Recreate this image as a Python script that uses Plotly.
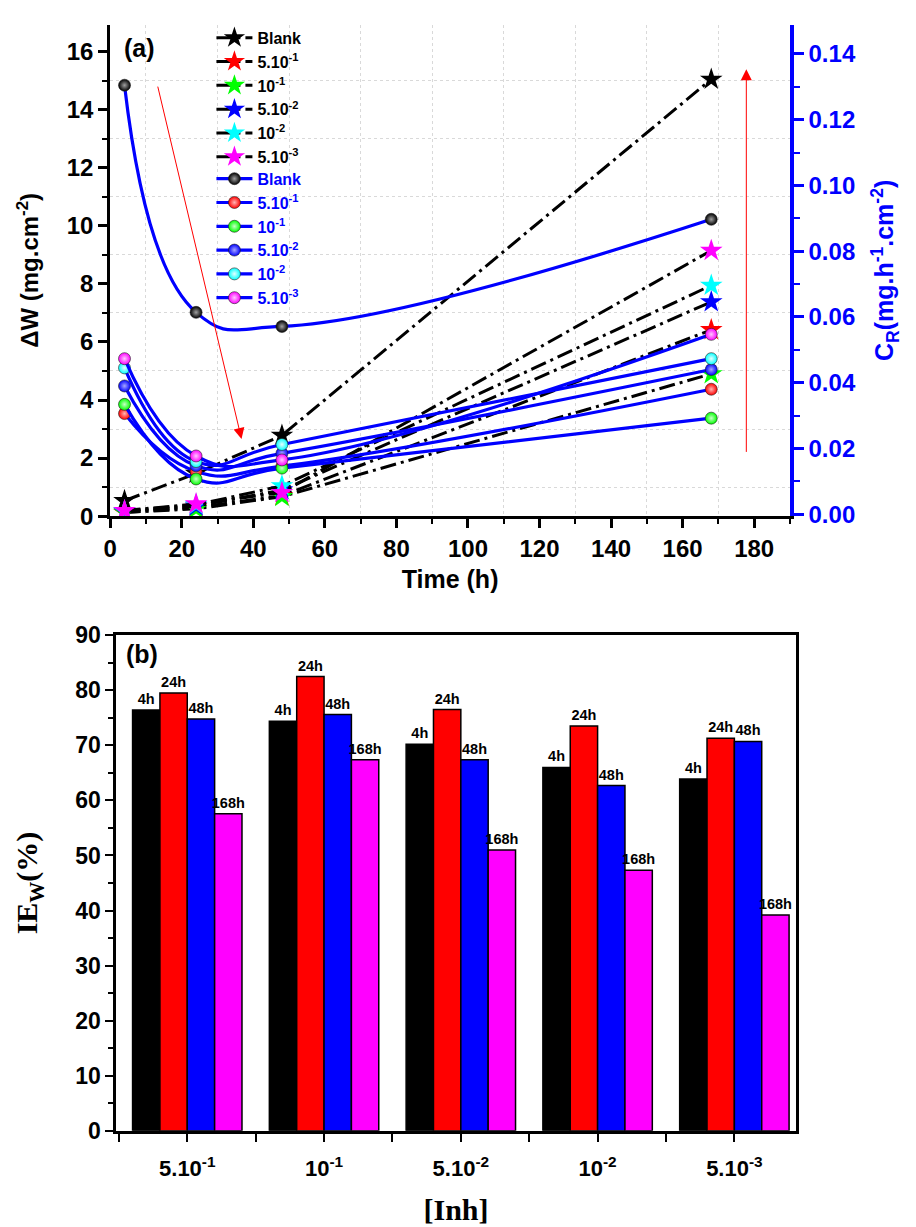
import plotly.graph_objects as go

# ---- panel (a): mass loss and corrosion rate vs immersion time ----
time_h = [4, 24, 48, 168]

series_names = ["Blank", "5.10<sup>-1</sup>", "10<sup>-1</sup>",
                "5.10<sup>-2</sup>", "10<sup>-2</sup>", "5.10<sup>-3</sup>"]
series_colors = ["#000000", "#ff0000", "#00ff00", "#0000ff", "#00ffff", "#ff00ff"]
ball_highlight = ["#a0a0a0", "#ffb4b4", "#c8ffc8", "#a8a8ff", "#e6ffff", "#ffc8ff"]

# mass loss ΔW (mg.cm-2)
dw_blank = [0.53, 1.47, 2.78, 15.05]
dw_5e1 = [0.12, 0.30, 0.70, 6.42]
dw_1e1 = [0.13, 0.25, 0.67, 4.90]
dw_5e2 = [0.16, 0.34, 0.90, 7.38]
dw_1e2 = [0.18, 0.39, 1.04, 7.95]
dw_5e3 = [0.19, 0.42, 0.81, 9.15]

# corrosion rate CR (mg.h-1.cm-2)
cr_blank = [0.1305, 0.0614, 0.0571, 0.0897]
cr_5e1 = [0.0306, 0.0130, 0.0146, 0.0380]
cr_1e1 = [0.0334, 0.0107, 0.0140, 0.0292]
cr_5e2 = [0.0390, 0.0147, 0.0185, 0.0440]
cr_1e2 = [0.0445, 0.0160, 0.0212, 0.0473]
cr_5e3 = [0.0473, 0.0177, 0.0165, 0.0547]

# ---- panel (b): inhibition efficiency ----
conc_labels = ["5.10<sup>-1</sup>", "10<sup>-1</sup>", "5.10<sup>-2</sup>",
               "10<sup>-2</sup>", "5.10<sup>-3</sup>"]
ie_4h = [76.4, 74.4, 70.2, 66.0, 63.9]
ie_24h = [79.5, 82.5, 76.5, 73.5, 71.3]
ie_48h = [74.8, 75.6, 67.4, 62.7, 70.7]
ie_168h = [57.6, 67.4, 51.0, 47.3, 39.2]
bar_labels = ["4h", "24h", "48h", "168h"]
bar_colors = ["#000000", "#ff0000", "#0000ff", "#ff00ff"]

W, H = 916, 1227
SANS = "Liberation Sans"
SERIF = "Liberation Serif"


def px_x(p):
    return p / W


def px_y(p):
    return 1 - p / H


fig = go.Figure()

dw_all = [dw_blank, dw_5e1, dw_1e1, dw_5e2, dw_1e2, dw_5e3]
cr_all = [cr_blank, cr_5e1, cr_1e1, cr_5e2, cr_1e2, cr_5e3]

# dash-dot mass-loss curves with star symbols (left axis)
for i, (name, col, vals) in enumerate(zip(series_names, series_colors, dw_all)):
    fig.add_trace(go.Scatter(
        x=time_h, y=vals, name=name, mode="lines+markers",
        line=dict(color="black", width=3, dash="16px,5px,3px,5px"),
        marker=dict(symbol="star", size=17, color=col, line=dict(width=0)),
        xaxis="x", yaxis="y", legend="legend", legendgroup=f"dw{i}",
    ))

# smoothed corrosion-rate curves with ball symbols (right axis)
for i, (name, col, hl, vals) in enumerate(zip(series_names, series_colors,
                                              ball_highlight, cr_all)):
    fig.add_trace(go.Scatter(
        x=time_h, y=vals, name=name, mode="lines+markers",
        line=dict(color="#0000ff", width=3.2, shape="spline", smoothing=1.3),
        marker=dict(symbol="circle", size=12, color=col,
                    gradient=dict(type="radial", color=hl),
                    line=dict(width=0.6, color="#202020")),
        xaxis="x", yaxis="y2", legend="legend2", legendgroup=f"cr{i}",
    ))

# inhibition-efficiency bars
ie_all = [ie_4h, ie_24h, ie_48h, ie_168h]
for lab, col, vals in zip(bar_labels, bar_colors, ie_all):
    fig.add_trace(go.Bar(
        x=list(range(len(conc_labels))), y=vals, name=lab,
        marker=dict(color=col, line=dict(color="black", width=1.5)),
        text=[lab] * len(vals), textposition="outside",
        textfont=dict(family=SANS, size=14.5, color="black", weight="bold"),
        constraintext="none", cliponaxis=False,
        xaxis="x2", yaxis="y3", showlegend=False,
    ))

tickfont = dict(family=SANS, size=24, color="black", weight="bold")
grid_minor = dict(showgrid=True, gridcolor="#d9d9d9", griddash="dot", gridwidth=1)

top_dom_x = [px_x(104), px_x(789)]
top_dom_y = [px_y(514), px_y(12)]
bot_dom_x = [px_x(110), px_x(795)]
bot_dom_y = [px_y(1142), px_y(635.7)]

fig.update_layout(
    width=W, height=H,
    margin=dict(l=0, r=0, t=0, b=0),
    paper_bgcolor="white", plot_bgcolor="white",
    barmode="group", bargap=0.2, bargroupgap=0,
    font=dict(family=SANS, color="black"),
    xaxis=dict(
        domain=top_dom_x, anchor="y", range=[0, 190],
        tickmode="linear", tick0=0, dtick=20,
        ticks="outside", ticklen=9, tickwidth=2.5, tickcolor="black",
        showline=True, linecolor="black", linewidth=3,
        showgrid=False, zeroline=False, tickfont=tickfont,
        minor=dict(dtick=10, ticks="outside", ticklen=5, tickwidth=2,
                   tickcolor="black", **grid_minor),
        title=dict(text="Time (h)", standoff=10,
                   font=dict(family=SANS, size=25, color="black", weight="bold")),
    ),
    xaxis3=dict(
        overlaying="x", anchor="y", side="top", range=[0, 190],
        tickmode="linear", tick0=0, dtick=20,
        ticks="inside", ticklen=9, tickwidth=2.5, tickcolor="black",
        showline=True, linecolor="black", linewidth=3,
        showgrid=False, zeroline=False, showticklabels=False,
        minor=dict(dtick=10, ticks="inside", ticklen=5, tickwidth=2,
                   tickcolor="black", showgrid=False),
    ),
    yaxis=dict(
        domain=top_dom_y, anchor="x", range=[0, 16.93],
        tickmode="linear", tick0=0, dtick=2,
        ticks="outside", ticklen=9, tickwidth=2.5, tickcolor="black",
        showline=True, linecolor="black", linewidth=3,
        showgrid=False, zeroline=False, tickfont=tickfont,
        minor=dict(dtick=1, ticks="outside", ticklen=5, tickwidth=2,
                   tickcolor="black", **grid_minor),
        title=dict(text="ΔW (mg.cm<sup>-2</sup>)", standoff=22,
                   font=dict(family=SANS, size=24, color="black", weight="bold")),
    ),
    yaxis2=dict(
        overlaying="y", anchor="x", side="right", range=[-0.0006, 0.1489],
        tickmode="linear", tick0=0, dtick=0.02, tickformat=".2f",
        ticks="outside", ticklen=10, tickwidth=2.5, tickcolor="#0000ff",
        showline=True, linecolor="#0000ff", linewidth=3.5,
        showgrid=False, zeroline=False,
        tickfont=dict(family=SANS, size=24, color="#0000ff", weight="bold"),
        minor=dict(dtick=0.01, ticks="outside", ticklen=6, tickwidth=2,
                   tickcolor="#0000ff", showgrid=False),
        title=dict(text="C<sub>R</sub>(mg.h<sup>-1</sup>.cm<sup>-2</sup>)", standoff=22,
                   font=dict(family=SANS, size=25, color="#0000ff", weight="bold")),
    ),
    xaxis2=dict(
        domain=bot_dom_x, anchor="y3", range=[-0.52, 4.45],
        tickmode="array", tickvals=list(range(len(conc_labels))), ticktext=conc_labels,
        ticks="outside", ticklen=8, tickwidth=2, tickcolor="black",
        ticklabelstandoff=8,
        showline=True, linecolor="black", linewidth=2.5, mirror=True,
        showgrid=False, zeroline=False,
        tickfont=dict(family=SANS, size=22, color="black", weight="bold"),
        minor=dict(tickmode="linear", tick0=0.5, dtick=1, ticks="outside",
                   ticklen=8, tickwidth=2, tickcolor="black", showgrid=False),
        title=dict(text="[Inh]", standoff=20,
                   font=dict(family=SERIF, size=30, color="black", weight="bold")),
    ),
    yaxis3=dict(
        domain=bot_dom_y, anchor="x2", range=[0, 90],
        tickmode="linear", tick0=0, dtick=10,
        ticks="outside", ticklen=8, tickwidth=2, tickcolor="black",
        showline=True, linecolor="black", linewidth=2.5, mirror=True,
        showgrid=False, zeroline=False,
        tickfont=dict(family=SANS, size=23, color="black", weight="bold"),
        minor=dict(dtick=5, ticks="outside", ticklen=5, tickwidth=2,
                   tickcolor="black", showgrid=False),
        title=dict(text="IE<sub>W</sub>(%)", standoff=29,
                   font=dict(family=SERIF, size=30, color="black", weight="bold")),
    ),
    legend=dict(
        x=px_x(206), y=px_y(8), xanchor="left", yanchor="top",
        bgcolor="rgba(0,0,0,0)", borderwidth=0, itemwidth=36,
        tracegroupgap=0, traceorder="normal",
        font=dict(family=SANS, size=16, color="black", weight="bold"),
    ),
    legend2=dict(
        x=px_x(206), y=px_y(152), xanchor="left", yanchor="top",
        bgcolor="rgba(0,0,0,0)", borderwidth=0, itemwidth=36,
        tracegroupgap=0, traceorder="normal",
        font=dict(family=SANS, size=16, color="#0000ff", weight="bold"),
    ),
)

# panel labels
fig.add_annotation(text="(a)", xref="paper", yref="paper", x=px_x(116), y=px_y(36),
                   xanchor="left", yanchor="middle", showarrow=False,
                   font=dict(family=SANS, size=25, color="black", weight="bold"))
fig.add_annotation(text="(b)", xref="paper", yref="paper", x=px_x(118), y=px_y(655),
                   xanchor="left", yanchor="middle", showarrow=False,
                   font=dict(family=SANS, size=25, color="black", weight="bold"))

# red trend arrows
fig.add_annotation(x=36.7, y=2.66, ax=13.2, ay=14.85, xref="x", yref="y",
                   axref="x", ayref="y", text="", showarrow=True,
                   arrowhead=2, arrowsize=2.2, arrowwidth=1, arrowcolor="#ff0000")
fig.add_annotation(x=177.8, y=15.4, ax=177.8, ay=2.16, xref="x", yref="y",
                   axref="x", ayref="y", text="", showarrow=True,
                   arrowhead=2, arrowsize=2.2, arrowwidth=1, arrowcolor="#ff0000")

fig.write_html("out.html")
